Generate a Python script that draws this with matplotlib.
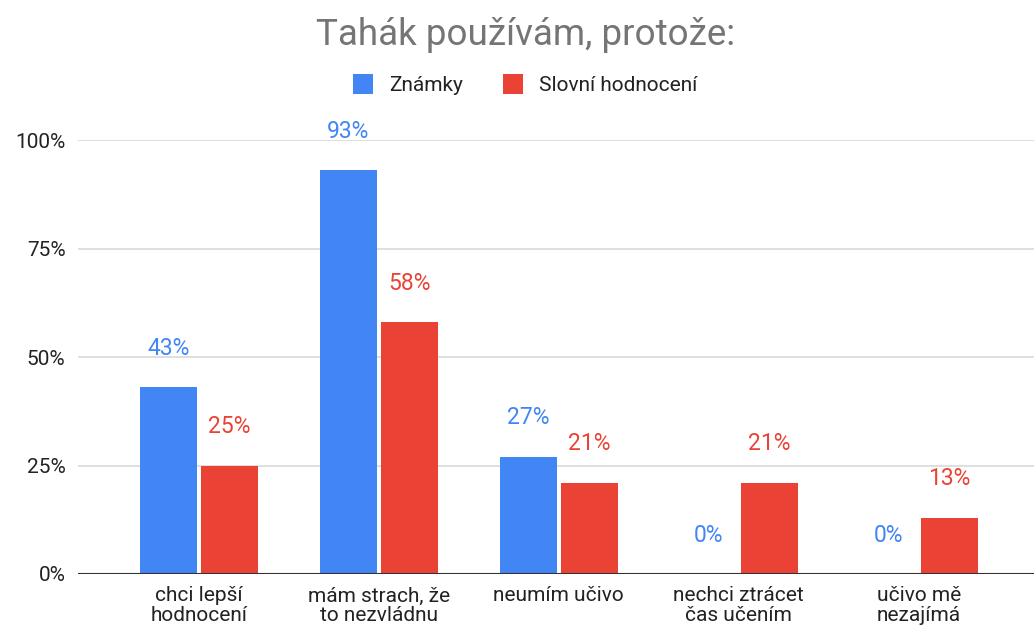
import matplotlib.pyplot as plt
import numpy as np

# Data
categories = ["chci lepší\nhodnocení", "mám strach, že\nto nezvládnu", "neumím učivo",
              "nechci ztrácet\nčas učením", "učivo mě\nnezajímá"]
znamky = [43, 93, 27, 0, 0]
slovni = [25, 58, 21, 21, 13]
series_names = ["Známky", "Slovní hodnocení"]
yticks = [0, 25, 50, 75, 100]

BLUE = "#4285F4"
RED = "#EA4335"

plt.rcParams['font.family'] = ['Roboto', 'DejaVu Sans']

fig = plt.figure(figsize=(10.34, 6.28), dpi=100)
ax = fig.add_axes([0.0754, 0.086, 0.9246, 0.691])

x = np.arange(len(categories))
w = 0.317
gap = 0.011
b1 = ax.bar(x - w / 2 - gap, znamky, w, color=BLUE, label=series_names[0], zorder=3)
b2 = ax.bar(x + w / 2 + gap, slovni, w, color=RED, label=series_names[1], zorder=3)

# hodnoty nad sloupci
for bars, vals, col in [(b1, znamky, BLUE), (b2, slovni, RED)]:
    for rect, v in zip(bars, vals):
        ax.annotate(f"{v}%", (rect.get_x() + rect.get_width() / 2, v),
                    xytext=(0, 28), textcoords="offset points",
                    ha="center", va="center", fontsize=16.5, color=col,
                    annotation_clip=False, zorder=4)

ax.set_xlim(-0.672, 4.64)
ax.set_ylim(0, 100)
ax.set_yticks(yticks)
ax.set_yticklabels([f"{t}%" for t in yticks])
ax.set_xticks(x)
ax.set_xticklabels(categories)

ax.grid(axis="y", color="#d9d9d9", linewidth=1.2, zorder=0)
ax.axhline(0, color="#333333", linewidth=1.5, zorder=4)
for s in ax.spines.values():
    s.set_visible(False)
ax.tick_params(axis="both", length=0, labelsize=15, colors="#222222")
ax.tick_params(axis="y", pad=9)
ax.tick_params(axis="x", pad=9)
for lbl in ax.get_xticklabels():
    lbl.set_linespacing(1.05)

fig.text(0.508, 0.945, "Tahák používám, protože:", ha="center", va="center",
         fontsize=26.5, color="#757575")

fig.legend(handles=[b1, b2], loc="center", bbox_to_anchor=(0.508, 0.865), ncol=2,
           frameon=False, fontsize=15, handlelength=0.95, handleheight=1.1,
           columnspacing=1.9, handletextpad=0.8, labelcolor="#222222")

plt.savefig("out.png", dpi=100)
plt.close()
